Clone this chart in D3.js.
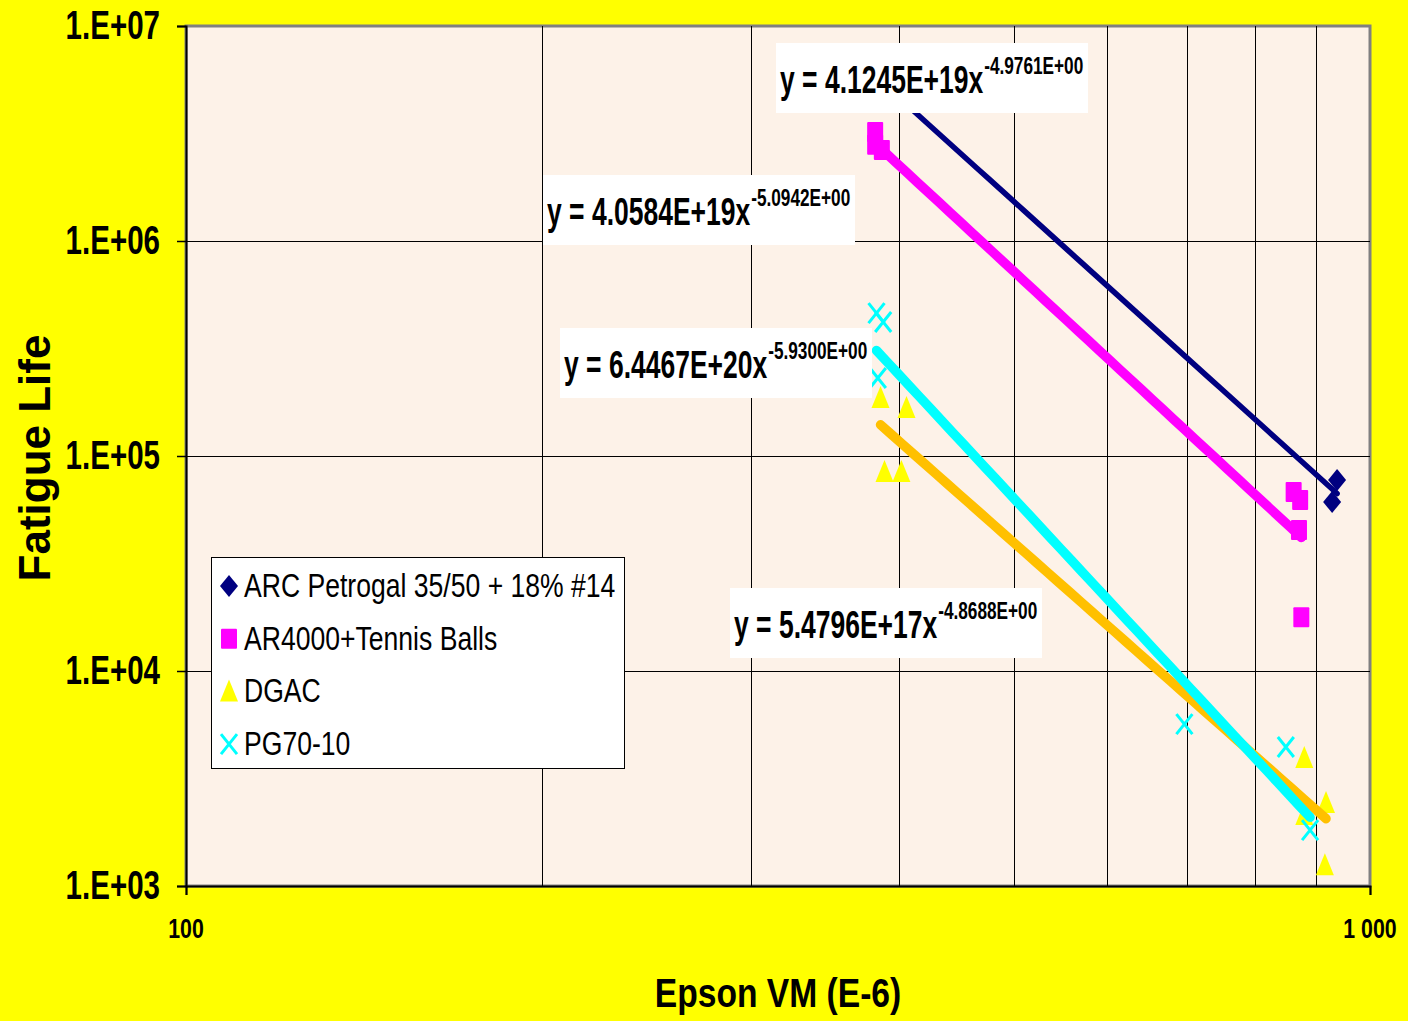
<!DOCTYPE html>
<html>
<head>
<meta charset="utf-8">
<script src="https://cdn.jsdelivr.net/npm/d3@7"></script>
<style>
  body { margin: 0; background: #ffff00; }
  svg { display: block; }
  text { font-family: "Liberation Sans", Arial, sans-serif; }
</style>
</head>
<body>
<svg id="chart" width="1408" height="1021"></svg>
<script>
// series data (x = Epson VM in E-6, y = fatigue life)
var seriesNames = ['ARC Petrogal 35/50 + 18% #14', 'AR4000+Tennis Balls', 'DGAC', 'PG70-10'];
var arcX = [380, 386, 929, 938];
var arcY = [5.9e6, 5.5e6, 61100, 77300];
var arX = [382, 382, 387, 862, 873, 871, 875];
var arY = [3.21e6, 2.80e6, 2.65e6, 68000, 62400, 45300, 17800];
var dgacX = [386, 406, 389, 402, 880, 918, 916, 880];
var dgacY = [186000, 167000, 84300, 84300, 3940, 2430, 1250, 2140];
var pgX = [383, 388, 384, 697, 849, 890];
var pgY = [462000, 420000, 230600, 5660, 4430, 1820];

// power trendlines y = a * x^b
var trendA = [4.1245e19, 4.0584e19, 5.4796e17, 6.4467e20];
var trendB = [-4.9761, -5.0942, -4.8688, -5.9300];
var trendMain = ['y = 4.1245E+19x', 'y = 4.0584E+19x', 'y = 5.4796E+17x', 'y = 6.4467E+20x'];
var trendSup = ['-4.9761E+00', '-5.0942E+00', '-4.8688E+00', '-5.9300E+00'];

var yTicks = [1e3, 1e4, 1e5, 1e6, 1e7];
var yTickLabels = ['1.E+03', '1.E+04', '1.E+05', '1.E+06', '1.E+07'];
var xGrid = [200, 300, 400, 500, 600, 700, 800, 900];
var xTicks = [100, 1000];
var xTickLabels = ['100', '1 000'];

var colors = ['#000080', '#ff00ff', '#ffff00', '#00ffff'];
var lineColors = ['#000080', '#ff00ff', '#ffc000', '#00ffff'];
var lineWidths = [5.5, 9.5, 9.5, 9.5];

var svg = d3.select('#chart');
var pLeft = 186, pRight = 1370, pTop = 26, pBottom = 886;

var x = d3.scaleLog().domain([100, 1000]).range([pLeft, pRight]);
var y = d3.scaleLog().domain([1e3, 1e7]).range([pBottom, pTop]);

// narrow text helper (Arial Narrow look)
function ntext(g, tx, ty, str, size, weight, anchor, sy) {
  return g.append('text')
    .attr('transform', 'translate(' + tx + ',' + ty + ') scale(0.82,' + (sy || 1) + ')')
    .attr('font-size', size)
    .attr('font-weight', weight)
    .attr('text-anchor', anchor || 'start')
    .text(str);
}

svg.append('rect').attr('width', 1408).attr('height', 1021).attr('fill', '#ffff00');

// plot area
svg.append('rect')
  .attr('x', pLeft).attr('y', pTop)
  .attr('width', pRight - pLeft).attr('height', pBottom - pTop)
  .attr('fill', '#fdf2e8')
  .attr('stroke', '#808080').attr('stroke-width', 3);

var grid = svg.append('g').attr('stroke', '#000').attr('stroke-width', 1);
grid.selectAll('.gx').data(xGrid).enter().append('line')
  .attr('x1', function(d) { return Math.round(x(d)) + 0.5; })
  .attr('x2', function(d) { return Math.round(x(d)) + 0.5; })
  .attr('y1', pTop).attr('y2', pBottom);
grid.selectAll('.gy').data(yTicks.slice(1, 4)).enter().append('line')
  .attr('y1', function(d) { return Math.round(y(d)) + 0.5; })
  .attr('y2', function(d) { return Math.round(y(d)) + 0.5; })
  .attr('x1', pLeft).attr('x2', pRight);

// axes
var yAxis = d3.axisLeft(y).tickValues(yTicks).tickSize(9).tickFormat('');
var gy = svg.append('g').attr('transform', 'translate(' + pLeft + ',0)').call(yAxis);
gy.select('.domain').attr('stroke', '#000').attr('stroke-width', 2);
gy.selectAll('.tick line').attr('stroke', '#000').attr('stroke-width', 1.5);

var xAxis = d3.axisBottom(x).tickValues(xTicks).tickSize(9).tickFormat('');
var gx = svg.append('g').attr('transform', 'translate(0,' + pBottom + ')').call(xAxis);
gx.select('.domain').attr('stroke', '#000').attr('stroke-width', 2);
gx.selectAll('.tick line').attr('stroke', '#000').attr('stroke-width', 1.5);

yTicks.forEach(function(d, i) {
  ntext(svg, 160, y(d) + 13, yTickLabels[i], 36, 'bold', 'end', 1.12);
});
xTicks.forEach(function(d, i) {
  ntext(svg, x(d), 938, xTickLabels[i], 26, 'bold', 'middle', 1.05);
});

// axis titles
ntext(svg, 778, 1007, 'Epson VM (E-6)', 41, 'bold', 'middle', 1);
svg.append('text')
  .attr('transform', 'translate(50,458) rotate(-90)')
  .attr('font-size', 44).attr('font-weight', 'bold')
  .attr('text-anchor', 'middle')
  .text('Fatigue Life');

// markers
function diamond(g, cx, cy, c) {
  g.append('path')
    .attr('d', 'M' + cx + ',' + (cy - 11) + 'L' + (cx + 9) + ',' + cy + 'L' + cx + ',' + (cy + 11) + 'L' + (cx - 9) + ',' + cy + 'Z')
    .attr('fill', c);
}
function square(g, cx, cy, c) {
  g.append('rect').attr('x', cx - 8).attr('y', cy - 10).attr('width', 16).attr('height', 20)
    .attr('rx', 1).attr('fill', c);
}
function triangle(g, cx, cy, c) {
  g.append('path')
    .attr('d', 'M' + cx + ',' + (cy - 12) + 'L' + (cx + 9) + ',' + (cy + 10) + 'L' + (cx - 9) + ',' + (cy + 10) + 'Z')
    .attr('fill', c);
}
function cross(g, cx, cy, c) {
  g.append('path')
    .attr('d', 'M' + (cx - 8) + ',' + (cy - 10) + 'L' + (cx + 8) + ',' + (cy + 10) + 'M' + (cx + 8) + ',' + (cy - 10) + 'L' + (cx - 8) + ',' + (cy + 10))
    .attr('stroke', c).attr('stroke-width', 3).attr('fill', 'none');
}
var markerFns = [diamond, square, triangle, cross];
var allX = [arcX, arX, dgacX, pgX];
var allY = [arcY, arY, dgacY, pgY];

var marks = svg.append('g');
allX.forEach(function(xs, s) {
  xs.forEach(function(v, i) {
    markerFns[s](marks, x(v), y(allY[s][i]), colors[s]);
  });
});

// trendlines
var trends = svg.append('g');
allX.forEach(function(xs, s) {
  var x0 = d3.min(xs), x1 = d3.max(xs);
  var pts = d3.range(0, 41).map(function(k) {
    var xv = x0 * Math.pow(x1 / x0, k / 40);
    return [x(xv), y(trendA[s] * Math.pow(xv, trendB[s]))];
  });
  trends.append('path')
    .attr('d', d3.line()(pts))
    .attr('fill', 'none')
    .attr('stroke', lineColors[s])
    .attr('stroke-width', lineWidths[s])
    .attr('stroke-linecap', 'round');
});

// trendline equation labels
var labelPos = [[776, 43], [543, 175], [730, 588], [560, 328]];
labelPos.forEach(function(p, s) {
  var g = svg.append('g');
  g.append('rect').attr('x', p[0]).attr('y', p[1]).attr('width', 312).attr('height', 70).attr('fill', '#fff');
  var t = ntext(g, p[0] + 4, p[1] + 50, trendMain[s], 32.3, 'bold', 'start', 1.2);
  var w = t.node().getComputedTextLength() * 0.82;
  ntext(g, p[0] + 4 + w + 1, p[1] + 31, trendSup[s], 21, 'bold', 'start', 1.1);
});

// legend
var lg = svg.append('g');
lg.append('rect').attr('x', 211.5).attr('y', 557.5).attr('width', 413).attr('height', 211)
  .attr('fill', '#fff').attr('stroke', '#000').attr('stroke-width', 1);
seriesNames.forEach(function(name, s) {
  var by = 597 + s * 52.7;
  markerFns[s](lg, 229, by - 11, colors[s]);
  ntext(lg, 244, by, name, 32.4, 'normal', 'start', 1.05);
});
</script>
</body>
</html>
